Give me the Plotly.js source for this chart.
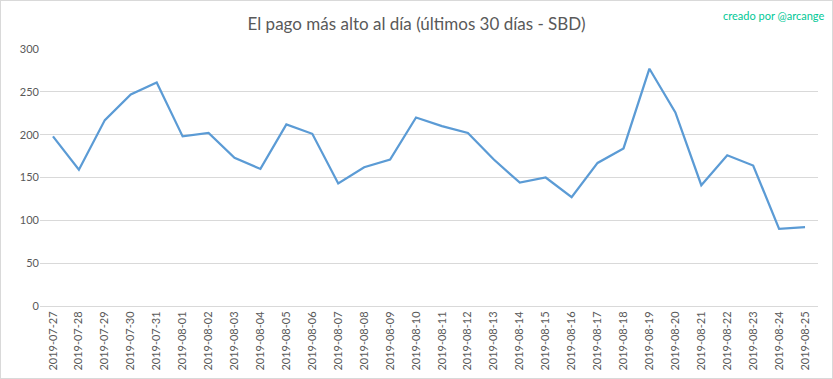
<!DOCTYPE html>
<html><head><meta charset="utf-8">
<script src="https://cdn.plot.ly/plotly-3.0.1.min.js"></script>
<style>html,body{margin:0;padding:0;background:#fff;}#chart{width:831px;height:377px;border:1px solid #d9d9d9;}</style>
</head><body><div id="chart"></div>
<script>
const fechas = ["2019-07-27","2019-07-28","2019-07-29","2019-07-30","2019-07-31","2019-08-01","2019-08-02","2019-08-03","2019-08-04","2019-08-05","2019-08-06","2019-08-07","2019-08-08","2019-08-09","2019-08-10","2019-08-11","2019-08-12","2019-08-13","2019-08-14","2019-08-15","2019-08-16","2019-08-17","2019-08-18","2019-08-19","2019-08-20","2019-08-21","2019-08-22","2019-08-23","2019-08-24","2019-08-25"];
const pagoMax = [198,159,217,247,261,198,202,173,160,212,201,143,162,171,220,210,202,171,144,150,127,167,184,277,226,141,176,164,90,92];
const yTicks = [0,50,100,150,200,250,300];

const trace = {x: fechas, y: pagoMax, type: 'scatter', mode: 'lines',
  line: {color: '#5b9bd5', width: 2.25}, hoverinfo: 'x+y'};
const layout = {
  width: 831, height: 377,
  margin: {l: 39, r: 14, t: 48, b: 72},
  paper_bgcolor: '#fff', plot_bgcolor: '#fff',
  font: {family: 'Lato, "Open Sans", sans-serif', color: '#595959', size: 11},
  title: {text: 'El pago más alto al día (últimos 30 días - SBD)', x: 0.5, xanchor: 'center', y: 0.94, yanchor: 'middle',
    font: {family: 'Lato, sans-serif', size: 17, color: '#595959'}},
  showlegend: false,
  xaxis: {type: 'category', tickangle: -90, showgrid: false, showline: true, linecolor: '#d9d9d9', linewidth: 1,
    ticks: '', tickfont: {size: 11, color: '#595959'}, range: [-0.5, fechas.length - 0.5], fixedrange: true},
  yaxis: {range: [0, 300], tickvals: yTicks, showgrid: true, gridcolor: '#d9d9d9', gridwidth: 1, zeroline: false,
    showline: false, ticks: '', tickfont: {size: 11, color: '#595959'}, fixedrange: true},
  annotations: [{text: 'creado por @arcange', xref: 'paper', yref: 'paper', x: 1.01, y: 1.13, xanchor: 'right', yanchor: 'middle',
    showarrow: false, font: {size: 11, color: '#00c896', family: 'Lato, sans-serif'}}]
};
Plotly.newPlot('chart', [trace], layout, {displayModeBar: false, staticPlot: true});
</script></body></html>
